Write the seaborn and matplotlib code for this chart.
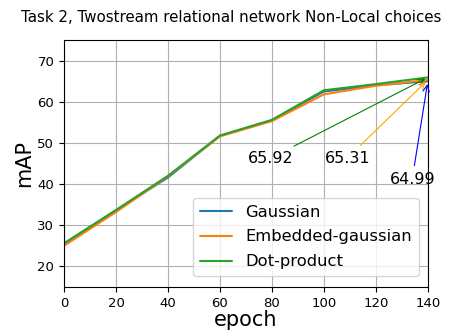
import matplotlib
matplotlib.use("Agg")
import matplotlib.pyplot as plt
import seaborn as sns
import pandas as pd

epochs = [0, 20, 40, 60, 80, 100, 120, 140]
gaussian = [25.5, 33.6, 41.6, 51.7, 55.5, 62.5, 64.0, 64.99]
embedded = [25.0, 33.2, 41.9, 51.6, 55.3, 61.8, 63.9, 65.31]
dotprod = [25.6, 33.7, 42.0, 51.8, 55.6, 62.8, 64.3, 65.92]
series_names = ["Gaussian", "Embedded-gaussian", "Dot-product"]
colors = ["#1f77b4", "#ff7f0e", "#2ca02c"]

rows = []
for name, vals in zip(series_names, [gaussian, embedded, dotprod]):
    for e, v in zip(epochs, vals):
        rows.append({"epoch": e, "mAP": v, "model": name})
df = pd.DataFrame(rows)

sns.set_theme(style="ticks")
plt.rcParams["font.family"] = ["DejaVu Sans"]
plt.rcParams.update({"text.color": "black", "axes.labelcolor": "black",
                     "xtick.color": "black", "ytick.color": "black"})

fig = plt.figure(figsize=(4.62, 3.31), dpi=100)
ax = fig.add_axes([0.1385, 0.133, 0.7875, 0.746])
sns.lineplot(data=df, x="epoch", y="mAP", hue="model", palette=colors,
             hue_order=series_names, ax=ax, linewidth=1.5)
ax.set_xlim(0, 140)
ax.set_ylim(15, 75)
ax.set_xticks(range(0, 141, 20))
ax.set_yticks(range(20, 71, 10))
ax.grid(True, color="#b0b0b0", linewidth=0.8)
ax.tick_params(labelsize=9.5, direction="out", length=3.5, width=0.8)
for s in ax.spines.values():
    s.set_color("black")
    s.set_linewidth(0.8)
ax.set_xlabel("epoch", fontsize=15, labelpad=0)
ax.set_ylabel("mAP", fontsize=15, labelpad=2)
ax.set_title("Task 2, Twostream relational network Non-Local choices", fontsize=10.8,
             pad=13, x=0.459)

ax.annotate(f"{dotprod[-1]:.2f}", xy=(epochs[-1], dotprod[-1]), xytext=(79.5, 46.3),
            ha="center", va="center", fontsize=11.5,
            arrowprops=dict(arrowstyle="->", color="green", lw=0.8))
ax.annotate(f"{embedded[-1]:.2f}", xy=(epochs[-1], embedded[-1]), xytext=(109, 46.3),
            ha="center", va="center", fontsize=11.5,
            arrowprops=dict(arrowstyle="->", color="orange", lw=0.8))
ax.annotate(f"{gaussian[-1]:.2f}", xy=(epochs[-1], gaussian[-1]), xytext=(134, 41.2),
            ha="center", va="center", fontsize=11.5,
            arrowprops=dict(arrowstyle="->", color="blue", lw=0.8))

leg = ax.legend(loc="lower right", bbox_to_anchor=(0.975, 0.045), fontsize=11.8,
                frameon=True, framealpha=0.8, edgecolor="#cccccc", fancybox=True,
                borderaxespad=0, labelspacing=0.6)
fig.savefig("out.png", dpi=100)
